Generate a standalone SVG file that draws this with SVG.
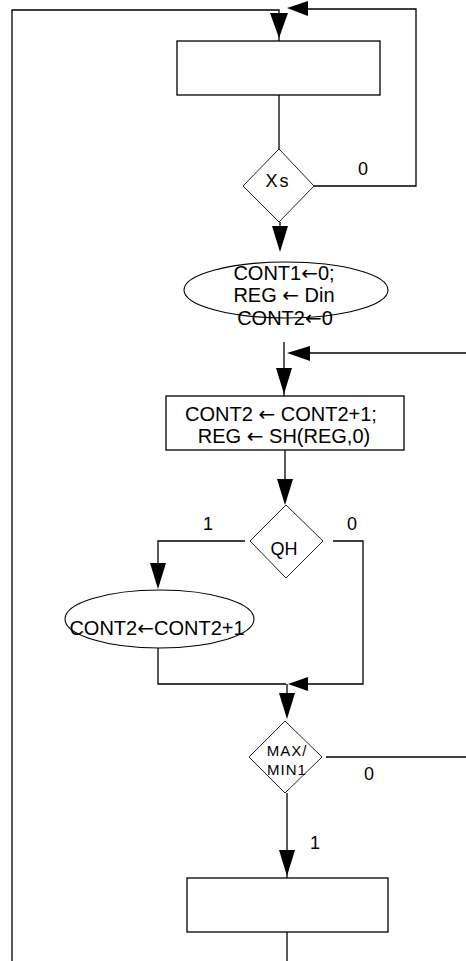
<svg xmlns="http://www.w3.org/2000/svg" width="466" height="961" viewBox="0 0 466 961">
<style>
.bx{fill:#fff;stroke:#000;stroke-width:1.3}
.dm{fill:#fff;stroke:#222;stroke-width:1}
.el{fill:none;stroke:#000;stroke-width:1.1}
.ln{fill:none;stroke:#000;stroke-width:1.3}
.ah{fill:#000;stroke:none}
text{font-family:"Liberation Sans",Arial,sans-serif;fill:#000;text-anchor:middle}
.t{font-size:20px}
.a{font-family:"DejaVu Sans",sans-serif}
.s{font-size:18px}
.m{font-size:15px;letter-spacing:1px}
</style>
<rect width="466" height="961" fill="#fff"/>
<g id="connectors">
<path class="ln" d="M12,961 V10 H279 V41"/>
<path class="ln" d="M279,95 V149"/>
<path class="ln" d="M314,186 H416 V9 H300"/>
<path class="ln" d="M280,222 V240"/>
<path class="ln" d="M284,342 V396"/>
<path class="ln" d="M466,353 H300"/>
<path class="ln" d="M285,450 V490"/>
<path class="ln" d="M245,541 H158 V575"/>
<path class="ln" d="M333,541 H363 V684 H300"/>
<path class="ln" d="M158,648 V684 H286"/>
<path class="ln" d="M287,684 V705"/>
<path class="ln" d="M326,757 H466"/>
<path class="ln" d="M287,793 V878"/>
<path class="ln" d="M287,932 V961"/>
<polygon class="ah" points="270,13 288,13 279,38"/>
<polygon class="ah" points="308,1 308,16 287,8"/>
<polygon class="ah" points="272,226 288,226 280,252"/>
<polygon class="ah" points="310,346 310,361 287,353"/>
<polygon class="ah" points="276,368 292,368 284,394"/>
<polygon class="ah" points="277,479 293,479 285,505"/>
<polygon class="ah" points="150,563 166,563 158,589"/>
<polygon class="ah" points="308,677 308,691 288,684"/>
<polygon class="ah" points="279,693 295,693 287,719"/>
<polygon class="ah" points="279,850 295,850 287,876"/>
<text class="s" x="363" y="175">0</text>
<text class="s" x="208" y="530">1</text>
<text class="s" x="352" y="530">0</text>
<text class="s" x="369" y="780">0</text>
<text class="s" x="315" y="849">1</text>
</g>
<g id="box1"><rect class="bx" x="177" y="41" width="203" height="54"/></g>
<g id="xs"><polygon class="dm" points="279,149 314,186 279,222 243,186"/><text class="s" x="278" y="187" style="letter-spacing:2px">Xs</text></g>
<g id="init">
<ellipse class="el" cx="286" cy="290" rx="102" ry="28"/>
<text class="t" x="284" y="280">CONT1<tspan class="a">←</tspan>0;</text>
<text class="t" x="284" y="302">REG <tspan class="a">←</tspan> Din</text>
<text class="t" x="285" y="325">CONT2<tspan class="a">←</tspan>0</text>
</g>
<g id="box2">
<rect class="bx" x="166" y="396" width="238" height="54"/>
<text class="t" x="281" y="421">CONT2 <tspan class="a">←</tspan> CONT2+1;</text>
<text class="t" x="284" y="443">REG <tspan class="a">←</tspan> SH(REG,0)</text>
</g>
<g id="qh"><polygon class="dm" points="286,505 323,541 286,578 250,541"/><text class="s" x="284" y="555">QH</text></g>
<g id="inc">
<ellipse class="el" cx="159.5" cy="619" rx="94.5" ry="29"/>
<text class="t" x="157" y="635">CONT2<tspan class="a">←</tspan>CONT2+1</text>
</g>
<g id="maxmin"><polygon class="dm" points="285,721 322,757 285,793 249,757"/>
<text class="m" x="287" y="756">MAX/</text>
<text class="m" x="287" y="775">MIN1</text></g>
<g id="box3"><rect class="bx" x="187" y="878" width="201" height="54"/></g>
</svg>
